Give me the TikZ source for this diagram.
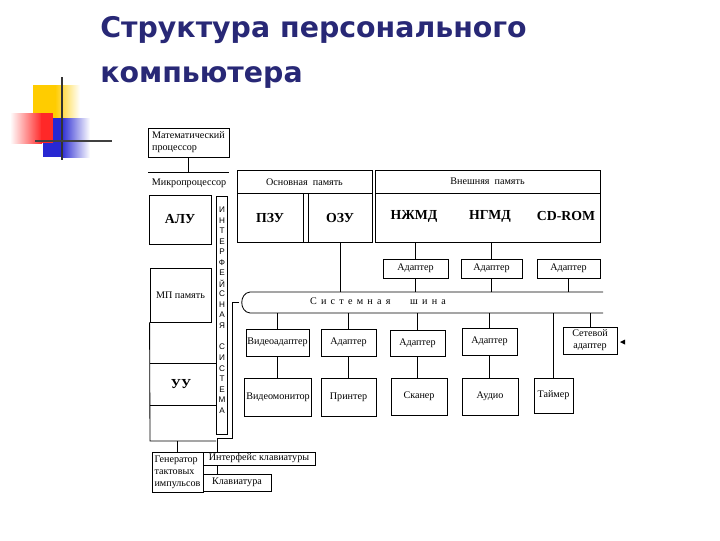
\documentclass[tikz,border=0pt]{standalone}
\usepackage{fontspec}
\setmainfont{Liberation Serif}
\newfontfamily\titlefont{DejaVu Sans}
\newfontfamily\stripfont{Liberation Sans}
\usetikzlibrary{positioning}
\definecolor{titleblue}{RGB}{40,40,118}
\definecolor{decoyellow}{RGB}{255,204,0}
\definecolor{decored}{RGB}{255,40,40}
\definecolor{decoblue}{RGB}{40,40,210}

\begin{document}
\begin{tikzpicture}[x=0.025cm, y=-0.025cm,
    wire/.style={line width=0.6pt},
    blk/.style={draw, wire, inner sep=1pt, align=center, font=\fontsize{7.2}{8.6}\selectfont},
    small/.style={inner sep=0pt, font=\fontsize{7.2}{8.6}\selectfont},
    big/.style={inner sep=0pt, font=\fontsize{9.8}{11}\selectfont\bfseries},
    letter/.style={inner sep=0pt, font=\stripfont\fontsize{5.8}{6}\selectfont},
    heading/.style={anchor=base west, inner sep=0pt, text=titleblue,
      font=\titlefont\bfseries\fontsize{20.2}{22}\selectfont}]
    \useasboundingbox (0,0) rectangle (720,540);

    % title
    \node[heading] (title1) at (100,37) {Структура персонального};
    \node[heading] (title2) at (100,82) {компьютера};

    % corner decoration
    \fill[decoyellow] (33,85) rectangle (56,123);
    \shade[left color=decoyellow, right color=white] (55,85) rectangle (80,123);
    \shade[left color=white, right color=decored] (10,113) rectangle (42,143);
    \fill[decored] (41,113) rectangle (53,143);
    \fill[decoblue] (43,143) rectangle (62,157);
    \fill[decoblue] (53,118) rectangle (62,143);
    \shade[left color=decoblue, right color=white] (61,118) rectangle (90,157);
    \draw[line width=1.6pt, black!80] (62,77) -- (62,160);
    \draw[line width=1.6pt, black!75] (35,141) -- (112,141);

    % microprocessor
    \node[blk, align=left, minimum width=2.025cm, minimum height=0.725cm] (mathp) at (188.5,142.5) {Математический\\процессор};
    \coordinate (mpline) at (0,172);
    \draw[wire] (148,172) -- (229,172);
    \draw[wire] (mathp.south) -- (mathp.south |- mpline);
    \node[small] (mplbl) at (189,183) {Микропроцессор};
    \node[blk, big, minimum width=1.55cm, minimum height=1.225cm] (alu) at (180,219.5) {АЛУ};
    \node[blk, small, minimum width=1.525cm, minimum height=1.35cm] (mpmem) at (180.5,295) {МП память};
    \coordinate (colbot) at (0,441);
    \draw[wire] (mpmem.south west) -- (150,441) -- (216,441);
    \draw[wire] (150,363) -- (216,363);
    \draw[wire] (150,405) -- (216,405);
    \node[big] (uu) at (181,384) {УУ};

    % interface system
    \node[draw, wire, inner sep=0pt, minimum width=0.275cm, minimum height=5.95cm] (strip) at (221.5,315) {};
    \foreach \ch [count=\i] in {И,Н,Т,Е,Р,Ф,Е,Й,С,Н,А,Я}
        \node[letter] (ls\i) at (222,199.5+\i*10.5) {\ch};
    \foreach \ch [count=\i] in {С,И,С,Т,Е,М,А}
        \node[letter] (lt\i) at (222,336.4+\i*10.6) {\ch};

    % main memory
    \node[draw, wire, minimum width=3.375cm, minimum height=1.8cm] (osn) at (304.5,206) {};
    \draw[wire] (237,193) -- (372,193);
    \node[small] (osnlbl) at (304.5,182) {Основная~~память};
    \node[blk, big, minimum width=1.65cm, minimum height=1.225cm] (pzu) at (270,217.5) {ПЗУ};
    \node[blk, big, minimum width=1.6cm, minimum height=1.225cm] (ozu) at (340,217.5) {ОЗУ};

    % external memory
    \node[draw, wire, minimum width=5.625cm, minimum height=1.8cm] (ext) at (487.5,206) {};
    \draw[wire] (375,193) -- (600,193);
    \node[small] (extlbl) at (487.5,181) {Внешняя~~память};
    \node[big] (hdd) at (414,216) {НЖМД};
    \node[big] (fdd) at (490,216) {НГМД};
    \node[big] (cdrom) at (566,216) {CD-ROM};
    \node[blk, minimum width=1.625cm, minimum height=0.475cm] (a1) at (415.5,268.5) {Адаптер};
    \node[blk, minimum width=1.525cm, minimum height=0.475cm] (a2) at (491.5,268.5) {Адаптер};
    \node[blk, minimum width=1.575cm, minimum height=0.475cm] (a3) at (568.5,268.5) {Адаптер};

    % system bus
    \coordinate (bustop) at (0,292);
    \coordinate (busbot) at (0,313);
    \coordinate (busL) at (239,302.5);
    \draw[wire] (603,292) -- (250,292) .. controls (239,293) and (239,312) .. (250,313) -- (603,313);
    \node[small] (buslbl) at (378,301) {С\hspace{3pt}и\hspace{3pt}с\hspace{3pt}т\hspace{3pt}е\hspace{3pt}м\hspace{3pt}н\hspace{3pt}а\hspace{3pt}я\hspace{14pt}ш\hspace{3pt}и\hspace{3pt}н\hspace{3pt}а};

    \draw[wire] (ozu.south) -- (ozu.south |- bustop);
    \draw[wire] (a1.north |- ext.south) -- (a1.north);
    \draw[wire] (a2.north |- ext.south) -- (a2.north);
    \foreach \n in {a1,a2,a3}
        \draw[wire] (\n.south) -- (\n.south |- bustop);

    % devices
    \node[blk, minimum width=1.475cm, minimum height=0.675cm] (vad) at (277.5,342.5) {Видеоадаптер};
    \node[blk, minimum width=1.375cm, minimum height=0.675cm] (ad2) at (348.5,342.5) {Адаптер};
    \node[blk, minimum width=1.375cm, minimum height=0.65cm] (ad3) at (417.5,343) {Адаптер};
    \node[blk, minimum width=1.375cm, minimum height=0.675cm] (ad4) at (489.5,341.5) {Адаптер};
    \node[blk, minimum width=1.35cm, minimum height=0.675cm] (net) at (590,340.5) {Сетевой\\адаптер};
    \node[blk, minimum width=1.5cm, minimum height=0.95cm] (vmon) at (278,397) {Видеомонитор};
    \node[blk, minimum width=1.375cm, minimum height=0.95cm] (prn) at (348.5,397) {Принтер};
    \node[blk, minimum width=1.4cm, minimum height=0.925cm] (scan) at (419,396.5) {Сканер};
    \node[blk, minimum width=1.4cm, minimum height=0.925cm] (audio) at (490,396.5) {Аудио};
    \node[blk, minimum width=0.975cm, minimum height=0.875cm] (timer) at (553.5,395.5) {Таймер};

    \foreach \n in {vad,ad2,ad3,ad4,net,timer}
        \draw[wire] (\n.north |- busbot) -- (\n.north);
    \foreach \a/\b in {vad/vmon,ad2/prn,ad3/scan,ad4/audio}
        \draw[wire] (\a.south) -- (\a.south |- \b.north);
    \fill (620,342) -- (625,339.5) -- (625,344.5) -- cycle;

    % clock and keyboard
    \node[blk, align=left, minimum width=1.275cm, minimum height=1cm] (gen) at (177.5,472) {Генератор\\тактовых\\импульсов};
    \node[blk, minimum width=2.8cm, minimum height=0.325cm] (kbi) at (259,458.5) {Интерфейс клавиатуры};
    \node[blk, minimum width=1.7cm, minimum height=0.425cm] (kb) at (237,482.5) {Клавиатура};
    \coordinate (stripout) at (217,438);
    \draw[wire] (busL) -- (232,302.5) -- (232,438) -- (stripout);
    \draw[wire] (stripout) -- (stripout |- kbi.north);
    \draw[wire] (kbi.south -| stripout) -- (kb.north -| stripout);
    \draw[wire] (gen.north) -- (gen.north |- colbot);
\end{tikzpicture}
\end{document}
